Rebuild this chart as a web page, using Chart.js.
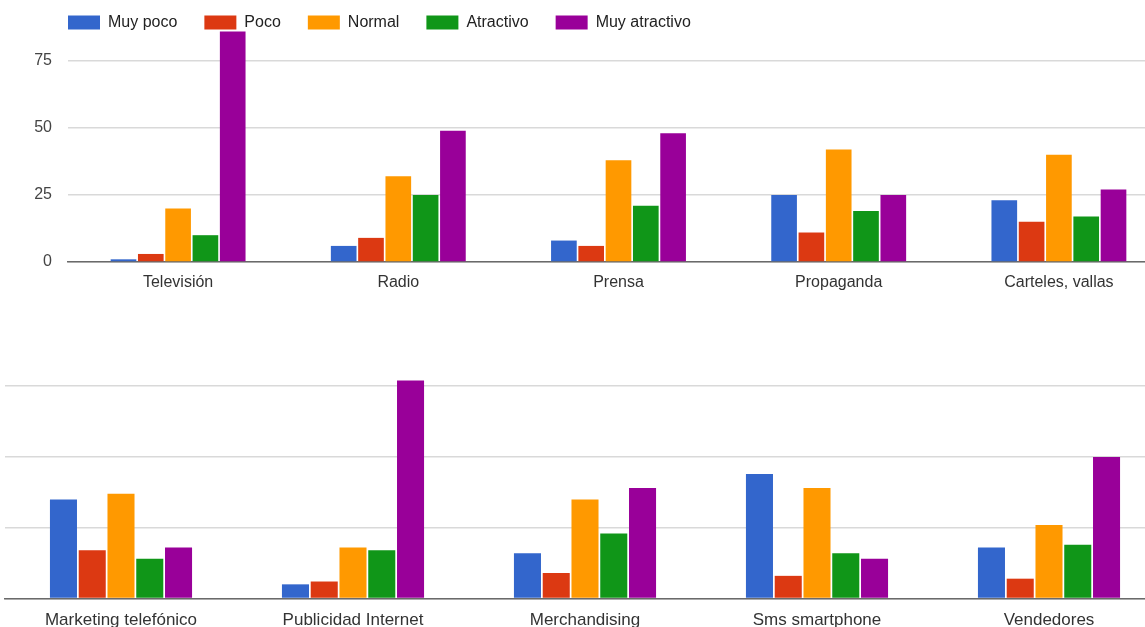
<!DOCTYPE html>
<html>
<head>
<meta charset="utf-8">
<title>Valoración de medios publicitarios</title>
<script src="https://cdn.jsdelivr.net/npm/chart.js@4/dist/chart.umd.min.js"></script>
<style>
  html, body { margin: 0; padding: 0; background: #fff; width: 1145px; height: 627px; overflow: hidden; position: relative; }
  #chartTop { position: absolute; left: 0; top: 0; }
  #chartBottom { position: absolute; left: 0; top: 360px; }
</style>
</head>
<body>
<canvas id="chartTop" width="1169" height="300"></canvas>
<canvas id="chartBottom" width="1165" height="267"></canvas>
<script>
// Answer levels (series) and their colours
const seriesNames = ['Muy poco', 'Poco', 'Normal', 'Atractivo', 'Muy atractivo'];
const seriesColors = ['#3366cc', '#dc3912', '#ff9900', '#109618', '#990099'];
const yTickValues = [0, 25, 50, 75];

// First group of media
const mediaTop = ['Televisión', 'Radio', 'Prensa', 'Propaganda', 'Carteles, vallas'];
const muyPocoTop     = [1, 6, 8, 25, 23];
const pocoTop        = [3, 9, 6, 11, 15];
const normalTop      = [20, 32, 38, 42, 40];
const atractivoTop   = [10, 25, 21, 19, 17];
const muyAtractivoTop = [86, 49, 48, 25, 27];

// Second group of media
const mediaBottom = ['Marketing telefónico', 'Publicidad Internet', 'Merchandising', 'Sms smartphone', 'Vendedores'];
const muyPocoBottom     = [35, 5, 16, 44, 18];
const pocoBottom        = [17, 6, 9, 8, 7];
const normalBottom      = [37, 18, 35, 39, 26];
const atractivoBottom   = [14, 17, 23, 16, 19];
const muyAtractivoBottom = [18, 77, 39, 14, 50];

Chart.defaults.font.family = "'Liberation Sans', Arial, sans-serif";

function makeDatasets(rows) {
  return rows.map((values, i) => ({
    label: seriesNames[i],
    data: values,
    backgroundColor: seriesColors[i],
    borderWidth: 0,
    categoryPercentage: 0.62,
    barPercentage: 0.94,
    clip: false
  }));
}

// Legend block: fixed height, and items lined up with the plot's left edge
const legendBox = {
  id: 'legendBox',
  afterInit(chart, args, opts) {
    const lg = chart.legend;
    if (!lg) return;
    const fit = lg.fit;
    lg.fit = function () { fit.call(this); this.height = opts.height; };
  },
  afterLayout(chart, args, opts) {
    const lg = chart.legend;
    if (!lg) return;
    lg.left += opts.shiftX;
    lg.right += opts.shiftX;
  }
};

const setTicks = scale => { scale.ticks = yTickValues.map(v => ({ value: v })); };

new Chart(document.getElementById('chartTop'), {
  type: 'bar',
  data: {
    labels: mediaTop,
    datasets: makeDatasets([muyPocoTop, pocoTop, normalTop, atractivoTop, muyAtractivoTop])
  },
  plugins: [legendBox],
  options: {
    responsive: false,
    animation: false,
    devicePixelRatio: 1,
    layout: { padding: { left: 0, top: -12.5, right: 0, bottom: 0 } },
    plugins: {
      legend: {
        position: 'top',
        align: 'start',
        labels: {
          boxWidth: 32,
          boxHeight: 14,
          padding: 27,
          color: '#222',
          font: { size: 16 }
        }
      },
      legendBox: { height: 44.5, shiftX: 41 },
      tooltip: { enabled: false }
    },
    scales: {
      x: {
        grid: { display: false },
        border: { display: true, color: '#6a6a6a', width: 1.5 },
        ticks: { color: '#333', padding: 3, font: { size: 16 }, maxRotation: 0 },
        afterFit: s => { s.height = 38; }
      },
      y: {
        min: 0,
        max: 85.8,
        grid: { color: '#d9d9d9', lineWidth: 1.5, drawTicks: false },
        border: { display: false },
        ticks: { color: '#444', padding: 16, font: { size: 16 } },
        afterBuildTicks: setTicks,
        afterFit: s => { s.width = 68; }
      }
    }
  }
});

new Chart(document.getElementById('chartBottom'), {
  type: 'bar',
  data: {
    labels: mediaBottom,
    datasets: makeDatasets([muyPocoBottom, pocoBottom, normalBottom, atractivoBottom, muyAtractivoBottom])
  },
  options: {
    responsive: false,
    animation: false,
    devicePixelRatio: 1,
    layout: { padding: { left: 5, top: 12, right: 0, bottom: 0 } },
    plugins: {
      legend: { display: false },
      tooltip: { enabled: false }
    },
    scales: {
      x: {
        grid: { display: false },
        border: { display: true, color: '#6a6a6a', width: 1.5 },
        ticks: { color: '#333', padding: 4, font: { size: 17 }, maxRotation: 0 },
        afterFit: s => { s.height = 28.5; }
      },
      y: {
        min: 0,
        max: 80,
        grid: { color: '#d9d9d9', lineWidth: 1.5, drawTicks: false },
        border: { display: false },
        ticks: { display: false },
        afterBuildTicks: setTicks,
        afterFit: s => { s.width = 0; }
      }
    }
  }
});
</script>
</body>
</html>
